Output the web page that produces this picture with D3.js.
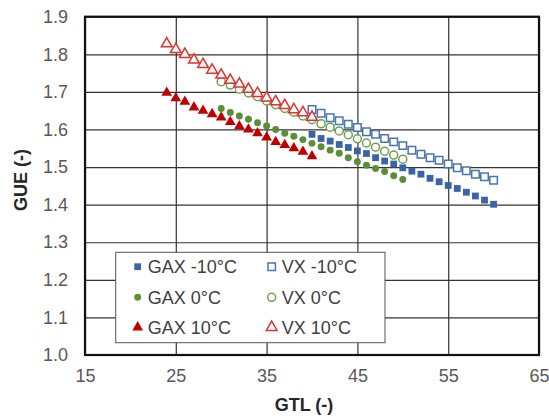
<!DOCTYPE html>
<html>
<head>
<meta charset="utf-8">
<script src="https://cdn.jsdelivr.net/npm/d3@7"></script>
<style>
  body { margin: 0; background: #fff; }
  svg { font-family: "Liberation Sans", Arial, sans-serif; }
</style>
</head>
<body>
<div id="chart"></div>
<script>
// GTL values for each temperature case
const gtl10 = [24, 25, 26, 27, 28, 29, 30, 31, 32, 33, 34, 35, 36, 37, 38, 39, 40];
const gtl0 = [30, 31, 32, 33, 34, 35, 36, 37, 38, 39, 40, 41, 42, 43, 44, 45, 46, 47, 48, 49, 50];
const gtlM10 = [40, 41, 42, 43, 44, 45, 46, 47, 48, 49, 50, 51, 52, 53, 54, 55, 56, 57, 58, 59, 60];

// GUE values
const gaxM10 = [1.587, 1.576, 1.569, 1.560, 1.552, 1.543, 1.536, 1.525, 1.516, 1.508, 1.498,
                1.489, 1.481, 1.470, 1.461, 1.451, 1.443, 1.433, 1.423, 1.412, 1.401];
const vxM10 = [1.653, 1.643, 1.631, 1.623, 1.614, 1.605, 1.594, 1.587, 1.576, 1.567, 1.557,
               1.545, 1.534, 1.525, 1.518, 1.508, 1.498, 1.490, 1.481, 1.474, 1.465];
const gax0 = [1.656, 1.645, 1.636, 1.627, 1.618, 1.609, 1.600, 1.590, 1.582, 1.573, 1.563,
              1.554, 1.545, 1.537, 1.525, 1.514, 1.505, 1.496, 1.488, 1.477, 1.467];
const vx0 = [1.727, 1.718, 1.707, 1.697, 1.687, 1.676, 1.666, 1.656, 1.646, 1.636, 1.626,
             1.615, 1.606, 1.596, 1.586, 1.575, 1.564, 1.553, 1.542, 1.532, 1.521];
const gax10 = [1.698, 1.683, 1.674, 1.659, 1.650, 1.641, 1.632, 1.620, 1.609, 1.600, 1.590,
               1.579, 1.567, 1.559, 1.550, 1.541, 1.529];
const vx10 = [1.828, 1.813, 1.800, 1.785, 1.773, 1.758, 1.745, 1.731, 1.721, 1.707, 1.696,
              1.684, 1.674, 1.664, 1.653, 1.645, 1.633];

const seriesNames = ["GAX -10°C", "VX -10°C", "GAX 0°C", "VX 0°C", "GAX 10°C", "VX 10°C"];

const xTicks = [15, 25, 35, 45, 55, 65];
const yTicks = [1.0, 1.1, 1.2, 1.3, 1.4, 1.5, 1.6, 1.7, 1.8, 1.9];

// Series table for drawing
const series = [
  { name: seriesNames[0], xs: gtlM10, ys: gaxM10, shape: d3.symbolSquare, size: 46, color: "#3a64a8", open: false },
  { name: seriesNames[1], xs: gtlM10, ys: vxM10, shape: d3.symbolSquare, size: 56, color: "#4a74b0", open: true },
  { name: seriesNames[2], xs: gtl0, ys: gax0, shape: d3.symbolCircle, size: 38, color: "#5a8f35", open: false },
  { name: seriesNames[3], xs: gtl0, ys: vx0, shape: d3.symbolCircle, size: 50, color: "#70a050", open: true },
  { name: seriesNames[4], xs: gtl10, ys: gax10, shape: d3.symbolTriangle, size: 50, color: "#c00000", open: false },
  { name: seriesNames[5], xs: gtl10, ys: vx10, shape: d3.symbolTriangle, size: 50, color: "#e03232", open: true }
];

const W = 549, H = 419;
const plot = { left: 85, right: 539, top: 16.7, bottom: 355 };

const svg = d3.select("#chart")
  .append("svg")
    .attr("width", W)
    .attr("height", H);

const x = d3.scaleLinear()
  .domain([15, 65])
  .range([plot.left, plot.right]);

const y = d3.scaleLinear()
  .domain([1.0, 1.9])
  .range([plot.bottom, plot.top]);

// Gridlines
svg.append("g")
  .attr("transform", `translate(0,${plot.bottom})`)
  .call(d3.axisBottom(x).tickValues(xTicks).tickSize(-(plot.bottom - plot.top)).tickFormat(""))
  .call(g => g.select(".domain").remove())
  .selectAll("line")
    .attr("stroke", "#333")
    .attr("stroke-width", 1.2);

svg.append("g")
  .attr("transform", `translate(${plot.left},0)`)
  .call(d3.axisLeft(y).tickValues(yTicks).tickSize(-(plot.right - plot.left)).tickFormat(""))
  .call(g => g.select(".domain").remove())
  .selectAll("line")
    .attr("stroke", "#333")
    .attr("stroke-width", 1.2);

// Tick labels
svg.append("g")
  .attr("transform", `translate(0,${plot.bottom})`)
  .call(d3.axisBottom(x).tickValues(xTicks).tickSize(0).tickPadding(14))
  .call(g => g.select(".domain").remove())
  .selectAll("text")
    .attr("font-size", 18)
    .attr("font-family", "Liberation Sans, Arial, sans-serif")
    .attr("fill", "#595959");

svg.append("g")
  .attr("transform", `translate(${plot.left},0)`)
  .call(d3.axisLeft(y).tickValues(yTicks).tickSize(0).tickPadding(17).tickFormat(d3.format(".1f")))
  .call(g => g.select(".domain").remove())
  .selectAll("text")
    .attr("font-size", 18)
    .attr("font-family", "Liberation Sans, Arial, sans-serif")
    .attr("fill", "#595959");

// Plot border
svg.append("rect")
  .attr("x", plot.left)
  .attr("y", plot.top)
  .attr("width", plot.right - plot.left)
  .attr("height", plot.bottom - plot.top)
  .attr("fill", "none")
  .attr("stroke", "#111")
  .attr("stroke-width", 2.2);

// Markers
series.forEach(s => {
  const sym = d3.symbol().type(s.shape).size(s.size);
  svg.append("g")
    .selectAll("path")
    .data(s.xs.map((v, i) => [v, s.ys[i]]))
    .join("path")
      .attr("d", sym)
      .attr("transform", d => `translate(${x(d[0])},${y(d[1])})`)
      .attr("fill", s.open ? "#fff" : s.color)
      .attr("stroke", s.open ? s.color : "none")
      .attr("stroke-width", s.open ? 1.5 : 0);
});

// Legend
const legend = svg.append("g");
legend.append("rect")
  .attr("x", 115.7)
  .attr("y", 252.3)
  .attr("width", 269.3)
  .attr("height", 90.4)
  .attr("fill", "#fff")
  .attr("stroke", "#555")
  .attr("stroke-width", 1);

const colX = [137.7, 271.7];
const rowY = [266.7, 297.3, 327.3];

series.forEach((s, i) => {
  const cx = colX[i % 2], cy = rowY[Math.floor(i / 2)];
  const sym = d3.symbol().type(s.shape).size(s.size);
  legend.append("path")
    .attr("d", sym)
    .attr("transform", `translate(${cx},${cy})`)
    .attr("fill", s.open ? "#fff" : s.color)
    .attr("stroke", s.open ? s.color : "none")
    .attr("stroke-width", s.open ? 1.5 : 0);
  legend.append("text")
    .attr("x", cx + 10)
    .attr("y", cy + 6.5)
    .attr("font-size", 18)
    .attr("fill", "#404040")
    .text(s.name);
});

// Axis titles
svg.append("text")
  .attr("x", 304)
  .attr("y", 411)
  .attr("text-anchor", "middle")
  .attr("font-size", 18)
  .attr("font-weight", "bold")
  .attr("fill", "#262626")
  .text("GTL (-)");

svg.append("text")
  .attr("transform", "translate(27,180) rotate(-90)")
  .attr("text-anchor", "middle")
  .attr("font-size", 18)
  .attr("font-weight", "bold")
  .attr("fill", "#262626")
  .text("GUE (-)");
</script>
</body>
</html>
